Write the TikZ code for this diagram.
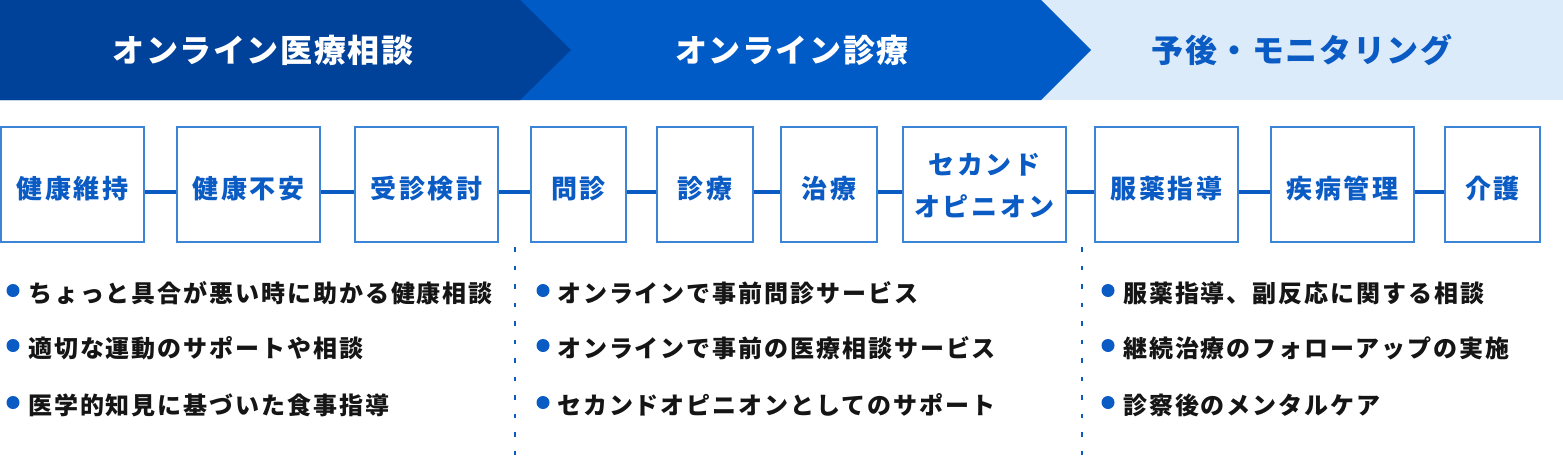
\documentclass[tikz,border=0pt]{standalone}
\usepackage{fontspec}
\newfontfamily\bannerfont{Noto Sans CJK JP}[LetterSpace=5]
\newfontfamily\boxfont{Noto Sans CJK JP}[LetterSpace=10]
\newfontfamily\itemfont{Noto Sans CJK JP}[LetterSpace=8]
\definecolor{navy}{HTML}{00419A}
\definecolor{midblue}{HTML}{005BC6}
\definecolor{paleblue}{HTML}{DCEBFA}
\definecolor{txtblue}{HTML}{0A5BC4}
\definecolor{frameblue}{HTML}{3C85D6}
\definecolor{ink}{HTML}{151515}
\tikzset{
  stage/.style={draw=frameblue, line width=2pt, fill=white, minimum height=115pt,
    inner sep=0pt, text=txtblue, align=center,
    font=\boxfont\bfseries\fontsize{26}{42}\selectfont},
  link/.style={draw=txtblue, line width=4pt},
  bannertext/.style={font=\bannerfont\bfseries\fontsize{32}{32}\selectfont, inner sep=0pt},
  itemtext/.style={anchor=west, inner sep=0pt, text=ink, font=\itemfont\bfseries\fontsize{24}{24}\selectfont},
  dot/.style={circle, fill=txtblue, minimum size=13pt, inner sep=0pt},
  sep/.style={draw=txtblue, line width=2pt, dash pattern=on 4.7pt off 13.8pt}
}
\newcommand\lowr[1]{\raisebox{-4pt}[\height][\depth]{#1}}
\begin{document}
\begin{tikzpicture}[x=1pt,y=-1pt]
\useasboundingbox (0,0) rectangle (1563,466);
% banner
\fill[paleblue] (0,0) rectangle (1563,100);
\fill[midblue] (0,0) -- (1041,0) -- (1091,50) -- (1041,100) -- (0,100) -- cycle;
\fill[navy] (0,0) -- (520,0) -- (571,50) -- (520,100) -- (0,100) -- cycle;
\node[bannertext, text=white] (h1) at (263,50) {オンライン医療相談};
\node[bannertext, text=white] (h2) at (792,50) {オンライン診療};
\node[bannertext, text=txtblue] (h3) at (1302,50) {予後・モニタリング};
% stages
\node[stage, minimum width=143pt] (b1) at (72.5,184.5) {\lowr{健康維持}};
\node[stage, minimum width=143pt] (b2) at (248.5,184.5) {\lowr{健康不安}};
\node[stage, minimum width=143pt] (b3) at (426.5,184.5) {\lowr{受診検討}};
\node[stage, minimum width=95pt] (b4) at (578.5,184.5) {\lowr{問診}};
\node[stage, minimum width=96pt] (b5) at (705,184.5) {\lowr{診療}};
\node[stage, minimum width=96pt] (b6) at (829,184.5) {\lowr{治療}};
\node[stage, minimum width=163pt] (b7) at (984.5,184.5) {\raisebox{-3pt}[\height][\depth]{\begin{tabular}{@{}c@{}}セカンド\\オピニオン\end{tabular}}};
\node[stage, minimum width=143pt] (b8) at (1166.5,184.5) {\lowr{服薬指導}};
\node[stage, minimum width=143pt] (b9) at (1342.5,184.5) {\lowr{疾病管理}};
\node[stage, minimum width=95pt] (b10) at (1492.5,184.5) {\lowr{介護}};
\foreach \a/\b in {b1/b2,b2/b3,b3/b4,b4/b5,b5/b6,b6/b7,b7/b8,b8/b9,b9/b10}
  \draw[link] ([yshift=-7pt]\a.east) -- ([yshift=-7pt]\b.west);
% separators
\coordinate (s1a) at (515,247); \coordinate (s1b) at (515,466);
\coordinate (s2a) at (1082,247); \coordinate (s2b) at (1082,466);
\draw[sep] (s1a) -- (s1b);
\draw[sep] (s2a) -- (s2b);
% items column 1
\node[dot] (d11) at (13,290.5) {};
\node[itemtext] (t11) at (28,293) {ちょっと具合が悪い時に助かる健康相談};
\node[dot] (d12) at (13,345.5) {};
\node[itemtext] (t12) at (28,348) {適切な運動のサポートや相談};
\node[dot] (d13) at (13,402.5) {};
\node[itemtext] (t13) at (28,405) {医学的知見に基づいた食事指導};
% items column 2
\node[dot] (d21) at (543,290.5) {};
\node[itemtext] (t21) at (557,293) {オンラインで事前問診サービス};
\node[dot] (d22) at (543,345.5) {};
\node[itemtext] (t22) at (557,348) {オンラインで事前の医療相談サービス};
\node[dot] (d23) at (543,402.5) {};
\node[itemtext] (t23) at (557,405) {セカンドオピニオンとしてのサポート};
% items column 3
\node[dot] (d31) at (1108,290.5) {};
\node[itemtext] (t31) at (1123,293) {服薬指導、副反応に関する相談};
\node[dot] (d32) at (1108,345.5) {};
\node[itemtext] (t32) at (1123,348) {継続治療のフォローアップの実施};
\node[dot] (d33) at (1108,402.5) {};
\node[itemtext] (t33) at (1123,405) {診察後のメンタルケア};
\end{tikzpicture}
\end{document}
